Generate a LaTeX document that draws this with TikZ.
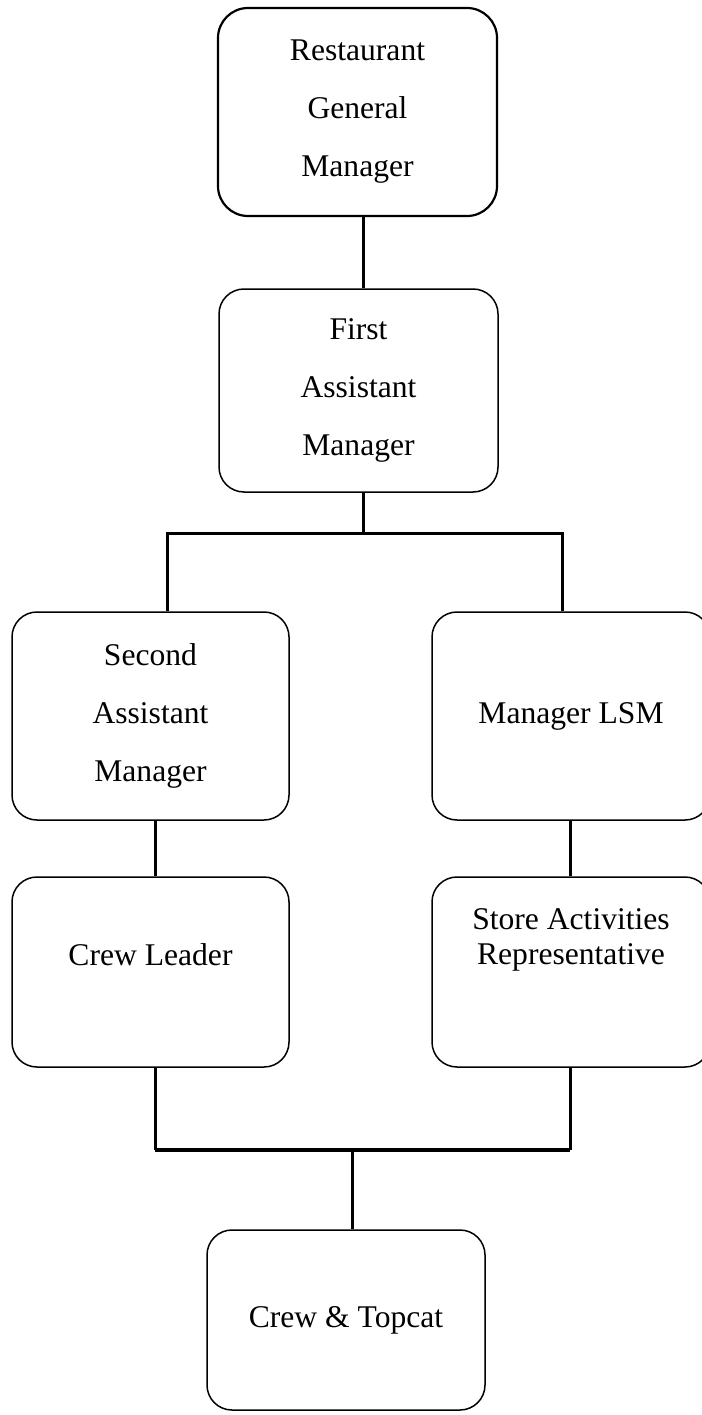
\documentclass[tikz,border=0pt]{standalone}
\usepackage{fontspec}
\setmainfont{Liberation Serif}
\usetikzlibrary{positioning,calc}

\begin{document}
\begin{tikzpicture}[x=1pt, y=-1pt]
    \tikzstyle{post} = [rectangle, rounded corners=25pt, minimum width=277pt, minimum height=190pt, text centered, align=center, draw=black, line width=1.5pt, font=\fontsize{31.6}{58}\selectfont]
    \tikzstyle{lowpost} = [post, font=\fontsize{31.6}{35}\selectfont]
    \tikzstyle{link} = [line width=3pt]
    \tikzstyle{bus} = [line width=4.5pt]

    \useasboundingbox (0,0) rectangle (701,1415);

    % Store management
    \node [post, minimum width=279pt, minimum height=208pt, rounded corners=30pt, line width=2.2pt] (rgm) at (357.5,112) {Restaurant\\General\\Manager};
    \node [post, minimum width=279pt, minimum height=203pt] (fam) at (358.5,390.5) {First\\Assistant\\Manager};

    % Second level
    \node [post, minimum height=208pt] (sam) at (150.5,716) {Second\\Assistant\\Manager};
    \node [post, minimum width=278pt, minimum height=208pt] (lsm) at (571,716) {Manager LSM};

    % Third level
    \node [lowpost] (cl) at (150.5,972) {Crew Leader\\\mbox{}};
    \node [lowpost, minimum width=278pt] (sar) at (571,972) {Store Activities\\Representative\\\mbox{}\\\mbox{}};

    % Crew
    \node [post, minimum width=278pt, minimum height=180pt] (ct) at (346,1320) {Crew \& Topcat};

    % Bus points
    \coordinate (upbus) at (363,533);
    \coordinate (upbusl) at (167,533);
    \coordinate (upbusr) at (562,533);
    \coordinate (lowbus) at (352,1150);
    \coordinate (lowbusl) at (155,1150);
    \coordinate (lowbusr) at (570,1150);

    % Lines
    \draw [link] ([xshift=5.5pt]rgm.south) -- ([xshift=5.5pt]rgm.south |- fam.north);
    \draw [link] (fam.south -| upbus) -- (upbus);
    \draw [link] (upbusl |- sam.north) -- (upbusl) -- (upbusr) -- (upbusr |- lsm.north);
    \draw [link] ([xshift=4.5pt]sam.south) -- ([xshift=4.5pt]sam.south |- cl.north);
    \draw [link] ([xshift=-1pt]lsm.south) -- ([xshift=-1pt]lsm.south |- sar.north);
    \draw [link] (cl.south -| lowbusl) -- (lowbusl);
    \draw [link] (sar.south -| lowbusr) -- (lowbusr);
    \draw [bus] (lowbusl) -- (lowbusr);
    \draw [link] (lowbus) -- (lowbus |- ct.north);
\end{tikzpicture}
\end{document}
